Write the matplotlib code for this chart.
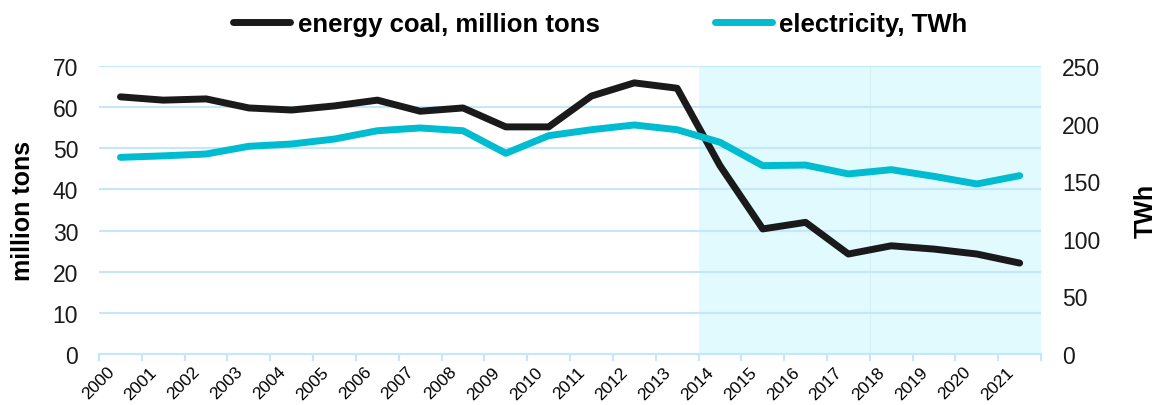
import numpy as np
import matplotlib
matplotlib.use("Agg")
import matplotlib.pyplot as plt
import matplotlib.transforms as mtransforms

plt.rcParams['font.family'] = ['Liberation Sans', 'DejaVu Sans']

years = [str(y) for y in range(2000, 2022)]
coal = [62.5, 61.7, 62.0, 59.8, 59.3, 60.3, 61.7, 59.0, 59.8, 55.2, 55.2,
        62.7, 65.9, 64.6, 45.8, 30.4, 32.0, 24.3, 26.3, 25.5, 24.3, 22.1]
electricity = [170.7, 172.0, 173.6, 180.3, 182.3, 186.6, 193.8, 196.2, 193.8, 174.2, 189.5,
               194.7, 198.8, 194.7, 183.8, 163.5, 164.0, 156.3, 160.0, 154.2, 147.6, 154.8]

coal_color = '#1a1a1a'
el_color = '#00bcd0'
grid_color = '#c6e6fb'
shade_color = '#e0fafe'

x = np.arange(len(years))

fig = plt.figure(figsize=(11.57, 4.06), dpi=100)
ax = fig.add_axes([0.0856, 0.1256, 0.8142, 0.7094])
ax2 = ax.twinx()

# shaded period 2014-2021
ax.axvspan(13.5, 17.5, color=shade_color, lw=0, zorder=0)
ax.axvspan(17.5, len(years) - 0.5, color=shade_color, lw=0, zorder=0)
ax.axvline(17.5, color='#d3f1f7', lw=0.8, zorder=0.5)

ax.plot(x, coal, color=coal_color, lw=5, solid_capstyle='round', zorder=3,
        label='energy coal, million tons')
ax2.plot(x, electricity, color=el_color, lw=5, solid_capstyle='round', zorder=3,
         label='electricity, TWh')

ax.set_xlim(-0.5, len(years) - 0.5)
ax.set_ylim(0, 70)
ax.set_yticks(range(0, 71, 10))
ax2.set_ylim(0, 250)
ax2.set_yticks(range(0, 251, 50))

ax.yaxis.grid(True, color=grid_color, lw=1.5)
ax.set_axisbelow(True)

for a in (ax, ax2):
    for s in ('top', 'left', 'right', 'bottom'):
        a.spines[s].set_visible(False)
    a.tick_params(axis='y', length=0, labelsize=16.5, colors='#1a1a1a', pad=15)

ax.spines['bottom'].set_visible(True)
ax.spines['bottom'].set_color(grid_color)
ax.spines['bottom'].set_linewidth(1.5)

ax.set_xticks(x)
ax.set_xticklabels(years, rotation=45, ha='right', rotation_mode='anchor', fontsize=12.5)
ax.tick_params(axis='x', which='major', length=0, pad=7)
offset = mtransforms.ScaledTranslation(-14 / 100, 0, fig.dpi_scale_trans)
for lab in ax.get_xticklabels():
    lab.set_transform(lab.get_transform() + offset)
ax.set_xticks(np.arange(-0.5, len(years)), minor=True)
ax.tick_params(axis='x', which='minor', length=5, color=grid_color, width=1.5)

ax.set_ylabel('million tons', fontsize=18, fontweight='bold', labelpad=13)
ax2.set_ylabel('TWh', fontsize=18, fontweight='bold', labelpad=24)

h1, l1 = ax.get_legend_handles_labels()
h2, l2 = ax2.get_legend_handles_labels()
fig.legend(h1 + h2, l1 + l2, loc='center', bbox_to_anchor=(0.519, 0.938), ncol=2,
           frameon=False, prop={'size': 18.5, 'weight': 'bold'},
           handlelength=2.2, handletextpad=0.3, columnspacing=4.5)

fig.savefig('out.png', dpi=100)
